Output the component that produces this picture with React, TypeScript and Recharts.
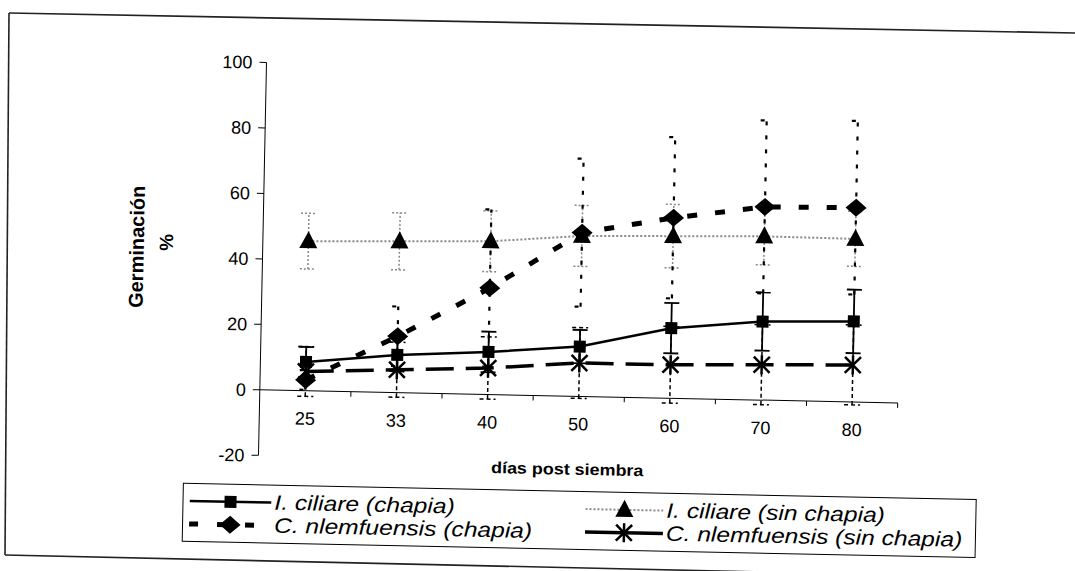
import React from "react";
import {
  ComposedChart,
  Line,
  XAxis,
  YAxis,
  ErrorBar,
  ReferenceLine,
} from "recharts";

const DAYS = ["25", "33", "40", "50", "60", "70", "80"];
const CILIARE_CHAPIA = [8.8, 11.5, 13, 15.2, 21.4, 24, 24.6];
const CILIARE_CHAPIA_ERR = [4.6, 5, 6.2, 5.1, 7.7, 8.9, 9.7];
const CILIARE_SIN = [45.7, 46.2, 46.8, 49, 49.5, 50, 49.8];
const CILIARE_SIN_ERR = [8.5, 8.7, 9.3, 9.3, 9.7, 8.7, 8.4];
const NLEM_CHAPIA = [3.3, 17.2, 32.5, 50, 55.1, 59, 59.3];
const NLEM_CHAPIA_ERR = [3, 9.1, 24, 22.6, 24.6, 26.4, 26.5];
const NLEM_SIN = [5.9, 7, 8.1, 10.2, 10.2, 10.8, 11.3];
const NLEM_SIN_ERR = [7.6, 8.4, 9.5, 10.8, 11.7, 12.2, 12.2];
const Y_TICKS = [-20, 0, 20, 40, 60, 80, 100];

const FONT = "'Liberation Sans', Arial, sans-serif";
const W = 1075;
const H = 571;
const MARGIN = { top: 68, right: 175, bottom: 80, left: 202 };
const Y_AXIS_W = 60;
const X_AXIS_H = 30;
const PLOT_W = W - MARGIN.left - Y_AXIS_W - MARGIN.right;
const PLOT_H = H - MARGIN.top - MARGIN.bottom - X_AXIS_H;
const ZERO_Y = MARGIN.top + (PLOT_H * 100) / 120;
const BAND = PLOT_W / DAYS.length;

const data = DAYS.map((day, i) => ({
  day,
  cc: CILIARE_CHAPIA[i],
  ccErr: CILIARE_CHAPIA_ERR[i],
  cs: CILIARE_SIN[i],
  csErr: CILIARE_SIN_ERR[i],
  nc: NLEM_CHAPIA[i],
  ncErr: NLEM_CHAPIA_ERR[i],
  ns: NLEM_SIN[i],
  nsErr: NLEM_SIN_ERR[i],
}));

const squareDot = (p: any) => (
  <rect key={p.key} x={p.cx - 6} y={p.cy - 6} width={12} height={12} fill="#000" />
);
const triangleDot = (p: any) => (
  <path key={p.key} d={`M${p.cx},${p.cy - 10} L${p.cx + 9},${p.cy + 7} L${p.cx - 9},${p.cy + 7} Z`} fill="#000" />
);
const diamondDot = (p: any) => (
  <path key={p.key} d={`M${p.cx},${p.cy - 9} L${p.cx + 10.5},${p.cy} L${p.cx},${p.cy + 9} L${p.cx - 10.5},${p.cy} Z`} fill="#000" />
);
const starDot = (p: any) => (
  <g key={p.key} stroke="#000" strokeWidth={2.5}>
    <line x1={p.cx - 8} y1={p.cy - 8} x2={p.cx + 8} y2={p.cy + 8} />
    <line x1={p.cx - 8} y1={p.cy + 8} x2={p.cx + 8} y2={p.cy - 8} />
    <line x1={p.cx} y1={p.cy - 9.5} x2={p.cx} y2={p.cy + 9.5} />
  </g>
);

const XTick = (props: any) => {
  const { x, payload } = props;
  return (
    <g>
      <text x={x} y={ZERO_Y + 34} textAnchor="middle" fontSize={18} fill="#000" fontFamily={FONT}>
        {payload.value}
      </text>
      <line x1={x + BAND / 2} x2={x + BAND / 2} y1={ZERO_Y} y2={ZERO_Y + 5} stroke="#000" />
    </g>
  );
};

const LEGEND = [
  { name: "I. ciliare (chapia)", col: 0, row: 0, w: 82, stroke: "#000", sw: 2.5, dash: undefined, dot: squareDot },
  { name: "I. ciliare (sin chapia)", col: 1, row: 0, w: 78, stroke: "#888", sw: 2, dash: "2 2", dot: triangleDot },
  { name: "C. nlemfuensis (chapia)", col: 0, row: 1, w: 82, stroke: "#000", sw: 5, dash: "9 19", dot: diamondDot },
  { name: "C. nlemfuensis (sin chapia)", col: 1, row: 1, w: 78, stroke: "#000", sw: 3.5, dash: undefined, dot: starDot },
];

const LegendBox = () => (
  <div
    style={{
      position: "absolute",
      left: 187,
      top: 490,
      width: 794,
      height: 59,
      border: "1px solid #000",
      boxSizing: "border-box",
      fontFamily: FONT,
      fontStyle: "italic",
      fontSize: 21,
    }}
  >
    {LEGEND.map((l) => (
      <div
        key={l.name}
        style={{
          position: "absolute",
          left: l.col === 0 ? 6 : 402,
          top: 5 + l.row * 23,
          height: 23,
          display: "flex",
          alignItems: "center",
          whiteSpace: "nowrap",
        }}
      >
        <svg width={l.w} height={22} style={{ marginRight: 3, flex: "none" }}>
          <line
            x1={0}
            x2={l.w}
            y1={11}
            y2={11}
            stroke={l.stroke}
            strokeWidth={l.sw}
            strokeDasharray={l.dash}
          />
          {l.dot({ key: "d", cx: l.w / 2, cy: 11 })}
        </svg>
        <span style={{ display: "inline-block", transform: "scaleX(1.17)", transformOrigin: "left center", lineHeight: "23px" }}>
          {l.name}
        </span>
      </div>
    ))}
  </div>
);

export default function App() {
  return (
    <div style={{ position: "absolute", left: 0, top: 0, width: W, height: H, overflow: "hidden", background: "#fff" }}>
      <svg width={W} height={H} style={{ position: "absolute", left: 0, top: 0 }}>
        <g stroke="#222" strokeWidth={1.6} fill="none">
          <line x1={9} y1={13} x2={1075} y2={33} />
          <line x1={9} y1={13} x2={5} y2={555} />
          <line x1={5} y1={555} x2={1075} y2={579} />
        </g>
      </svg>
      <div
        style={{
          position: "absolute",
          left: 0,
          top: 0,
          width: W,
          height: H,
          transform: "rotate(1.17deg)",
          transformOrigin: "537.5px 285.5px",
          fontFamily: FONT,
        }}
      >
        <ComposedChart width={W} height={H} data={data} margin={MARGIN}>
          <XAxis
            dataKey="day"
            scale="band"
            height={X_AXIS_H}
            axisLine={false}
            tickLine={false}
            interval={0}
            tick={<XTick />}
          />
          <YAxis
            width={Y_AXIS_W}
            domain={[-20, 100]}
            ticks={Y_TICKS}
            interval={0}
            tickSize={7}
            tickMargin={7}
            axisLine={{ stroke: "#000" }}
            tickLine={{ stroke: "#000" }}
            tick={{ fontSize: 18, fill: "#000", fontFamily: FONT }}
          />
          <ReferenceLine y={0} stroke="#000" strokeWidth={1} />
          <Line
            dataKey="cs"
            stroke="#888"
            strokeWidth={2}
            strokeDasharray="2 2"
            dot={triangleDot}
            activeDot={false}
            isAnimationActive={false}
          >
            <ErrorBar dataKey="csErr" width={8} stroke="#888" strokeWidth={1.5} strokeDasharray="2 2" />
          </Line>
          <Line
            dataKey="nc"
            stroke="#000"
            strokeWidth={5}
            strokeDasharray="10 18"
            dot={diamondDot}
            activeDot={false}
            isAnimationActive={false}
          >
            <ErrorBar dataKey="ncErr" width={6} stroke="#000" strokeWidth={2.2} strokeDasharray="4 10" />
          </Line>
          <Line
            dataKey="ns"
            stroke="#000"
            strokeWidth={3.5}
            strokeDasharray="28 12"
            dot={starDot}
            activeDot={false}
            isAnimationActive={false}
          >
            <ErrorBar dataKey="nsErr" width={8} stroke="#000" strokeWidth={1.5} strokeDasharray="4 3" />
          </Line>
          <Line
            dataKey="cc"
            stroke="#000"
            strokeWidth={2.5}
            dot={squareDot}
            activeDot={false}
            isAnimationActive={false}
          >
            <ErrorBar dataKey="ccErr" width={7.5} stroke="#000" strokeWidth={1.8} />
          </Line>
        </ComposedChart>
        <div
          style={{
            position: "absolute",
            left: 36,
            top: 244,
            width: 200,
            textAlign: "center",
            lineHeight: "22px",
            fontSize: 20,
            fontWeight: "bold",
            transform: "rotate(-90deg)",
          }}
        >
          Germinación
        </div>
        <div
          style={{
            position: "absolute",
            left: 66,
            top: 239,
            width: 200,
            textAlign: "center",
            lineHeight: "22px",
            fontSize: 19,
            fontWeight: "bold",
            transform: "rotate(-90deg)",
          }}
        >
          %
        </div>
        <div
          style={{
            position: "absolute",
            left: 421,
            top: 458,
            width: 300,
            textAlign: "center",
            lineHeight: "22px",
            fontSize: 16,
            fontWeight: "bold",
            transform: "scaleX(1.12)",
          }}
        >
          días post siembra
        </div>
        <LegendBox />
      </div>
    </div>
  );
}
